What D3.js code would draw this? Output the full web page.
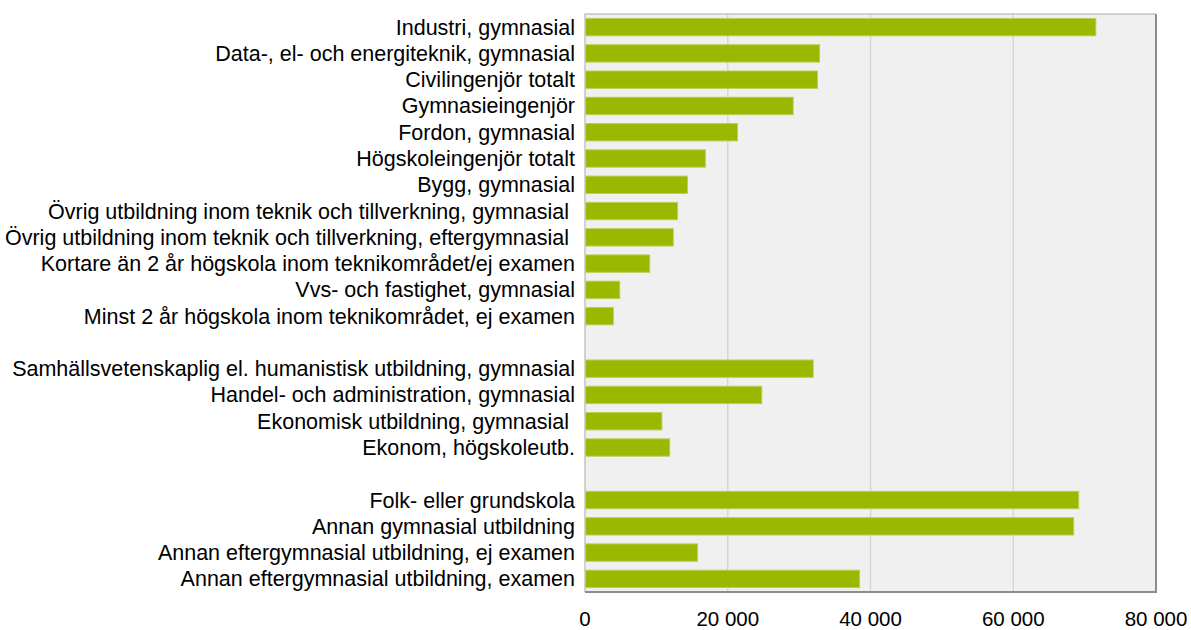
<!DOCTYPE html>
<html>
<head>
<meta charset="utf-8">
<script src="https://cdn.jsdelivr.net/npm/d3@7"></script>
<style>
  body { margin: 0; background: #fff; }
  text { font-family: "Liberation Sans", Arial, sans-serif; fill: #000; }
</style>
</head>
<body>
<script>
const techCategories = [
    'Industri, gymnasial',
    'Data-, el- och energiteknik, gymnasial',
    'Civilingenjör totalt',
    'Gymnasieingenjör',
    'Fordon, gymnasial',
    'Högskoleingenjör totalt',
    'Bygg, gymnasial',
    'Övrig utbildning inom teknik och tillverkning, gymnasial ',
    'Övrig utbildning inom teknik och tillverkning, eftergymnasial ',
    'Kortare än 2 år högskola inom teknikområdet/ej examen',
    'Vvs- och fastighet, gymnasial',
    'Minst 2 år högskola inom teknikområdet, ej examen'
]
const techValues = [71500, 32800, 32500, 29100, 21300, 16800, 14300, 12900, 12300, 9000, 4800, 3900]

const econCategories = [
    'Samhällsvetenskaplig el. humanistisk utbildning, gymnasial',
    'Handel- och administration, gymnasial',
    'Ekonomisk utbildning, gymnasial ',
    'Ekonom, högskoleutb.'
]
const econValues = [31900, 24700, 10700, 11800]

const otherCategories = [
    'Folk- eller grundskola',
    'Annan gymnasial utbildning',
    'Annan eftergymnasial utbildning, ej examen',
    'Annan eftergymnasial utbildning, examen'
]
const otherValues = [69100, 68400, 15700, 38400]

const tickValues = [0, 20000, 40000, 60000, 80000]

const width = 1191
const height = 630
const margin = {top: 14, right: 35, bottom: 38, left: 585}

// build rows, with an empty slot between the groups
const rows = []
techCategories.forEach((c, i) => rows.push({key: c, label: c, value: techValues[i]}))
rows.push({key: '_gap1', label: '', value: null})
econCategories.forEach((c, i) => rows.push({key: c, label: c, value: econValues[i]}))
rows.push({key: '_gap2', label: '', value: null})
otherCategories.forEach((c, i) => rows.push({key: c, label: c, value: otherValues[i]}))

const x = d3.scaleLinear()
    .domain([0, 80000])
    .range([margin.left, width - margin.right])

const y = d3.scaleBand()
    .domain(rows.map(d => d.key))
    .range([margin.top, height - margin.bottom])
    .paddingInner(0.3)
    .paddingOuter(0.15)

const svg = d3.select('body').append('svg')
    .attr('width', width)
    .attr('height', height)

// plot background
svg.append('rect')
    .attr('x', x(0))
    .attr('y', margin.top)
    .attr('width', x(80000) - x(0))
    .attr('height', height - margin.bottom - margin.top)
    .attr('fill', '#f0f0f0')

// grid lines
svg.append('g')
    .selectAll('line')
    .data(tickValues.slice(1, -1))
    .enter()
    .append('line')
    .attr('x1', d => x(d))
    .attr('x2', d => x(d))
    .attr('y1', margin.top)
    .attr('y2', height - margin.bottom)
    .attr('stroke', '#d6d6d6')
    .attr('stroke-width', 1.5)

// bars
svg.append('g')
    .selectAll('rect')
    .data(rows.filter(d => d.value !== null))
    .enter()
    .append('rect')
    .attr('x', x(0) + 0.5)
    .attr('y', d => y(d.key) + 0.5)
    .attr('width', d => x(d.value) - x(0))
    .attr('height', y.bandwidth() - 1)
    .attr('fill', '#9ab800')
    .attr('stroke', '#b8d05a')
    .attr('stroke-width', 1)

// frame: light top/left, darker right/bottom
const fx0 = x(0), fx1 = x(80000), fy0 = margin.top, fy1 = height - margin.bottom
svg.append('path')
    .attr('d', `M${fx0},${fy1} V${fy0} H${fx1}`)
    .attr('fill', 'none')
    .attr('stroke', '#c4c4c4')
    .attr('stroke-width', 1.5)
svg.append('path')
    .attr('d', `M${fx1},${fy0} V${fy1} H${fx0}`)
    .attr('fill', 'none')
    .attr('stroke', '#8c8c8c')
    .attr('stroke-width', 2)

// category labels
svg.append('g')
    .selectAll('text')
    .data(rows.filter(d => d.label))
    .enter()
    .append('text')
    .attr('x', margin.left - 10)
    .attr('y', d => y(d.key) + y.bandwidth() / 2)
    .attr('dy', '0.35em')
    .attr('text-anchor', 'end')
    .attr('font-size', 21.5)
    .style('white-space', 'pre')
    .text(d => d.label)

// x axis tick labels
const fmt = d => d3.format(',')(d).replace(/,/g, ' ')
svg.append('g')
    .selectAll('text')
    .data(tickValues)
    .enter()
    .append('text')
    .attr('x', d => x(d))
    .attr('y', 626)
    .attr('text-anchor', 'middle')
    .attr('font-size', 20.5)
    .text(fmt)
</script>
</body>
</html>
